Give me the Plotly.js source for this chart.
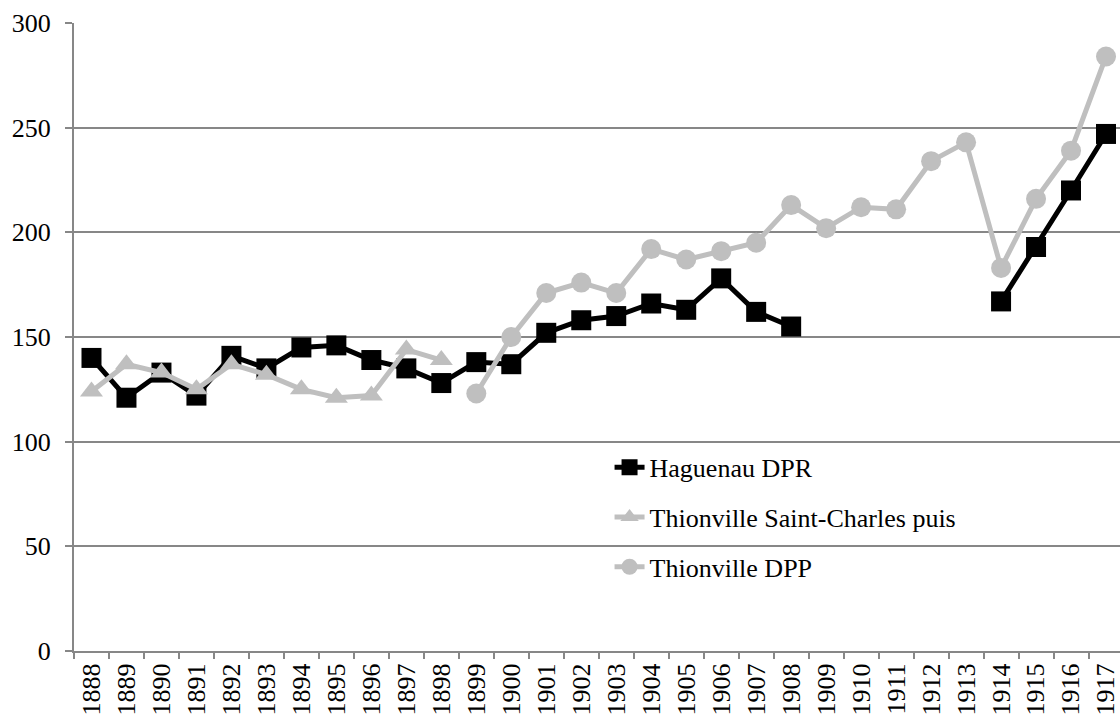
<!DOCTYPE html>
<html>
<head>
<meta charset="utf-8">
<script src="https://cdn.plot.ly/plotly-3.0.1.min.js"></script>
<style>html,body{margin:0;padding:0;background:#fff;}#chart{width:1120px;height:718px;}</style>
</head>
<body>
<div id="chart"></div>
<script>
const years = ["1888","1889","1890","1891","1892","1893","1894","1895","1896","1897","1898","1899","1900","1901","1902","1903","1904","1905","1906","1907","1908","1909","1910","1911","1912","1913","1914","1915","1916","1917"];
const haguenauDPR = [140,121,133,122,141,135,145,146,139,135,128,138,137,152,158,160,166,163,178,162,155,null,null,null,null,null,167,193,220,247];
const thionvilleStCharles = [124,137,133,125,137,132,125,121,122,144,139,null,null,null,null,null,null,null,null,null,null,null,null,null,null,null,null,null,null,null];
const thionvilleDPP = [null,null,null,null,null,null,null,null,null,null,null,123,150,171,176,171,192,187,191,195,213,202,212,211,234,243,183,216,239,284];
const seriesNames = ["Haguenau DPR","Thionville Saint-Charles puis","Thionville DPP"];
const yTicks = [0,50,100,150,200,250,300];

const FONT = "Liberation Serif";
const GREY = "#bfbfbf";
const AXIS = "#878787";

const traces = [
  {x: years, y: haguenauDPR, name: seriesNames[0], legendgroup: "a", type: "scatter", mode: "lines+markers",
   line: {color: "#000000", width: 5}, marker: {symbol: "square", size: 20, color: "#000000"}, connectgaps: false},
  {x: years, y: thionvilleStCharles, name: seriesNames[1], legendgroup: "b", type: "scatter", mode: "lines+markers",
   line: {color: GREY, width: 5}, marker: {symbol: "triangle-up", size: 20, color: GREY}, connectgaps: false},
  {x: years, y: thionvilleDPP, name: seriesNames[2], legendgroup: "c", type: "scatter", mode: "lines+markers",
   line: {color: GREY, width: 5}, marker: {symbol: "circle", size: 20, color: GREY}, connectgaps: false}
];

const layout = {
  width: 1120, height: 718,
  margin: {l: 74, r: 0, t: 23, b: 67, pad: 0},
  paper_bgcolor: "#ffffff", plot_bgcolor: "#ffffff",
  font: {family: FONT, size: 26, color: "#000000"},
  showlegend: true,
  legend: {x: 0.512, y: 0.33, xanchor: "left", yanchor: "top", bgcolor: "rgba(0,0,0,0)",
           font: {family: FONT, size: 26, color: "#000000"}, tracegroupgap: 13, traceorder: "grouped"},
  xaxis: {type: "category", categoryorder: "array", categoryarray: years, range: [-0.5, 29.4],
          showgrid: false, showline: true, linecolor: AXIS, linewidth: 2,
          ticks: "outside", ticklen: 6, tickcolor: AXIS, tickwidth: 2, tickson: "boundaries",
          tickangle: -90, tickfont: {family: FONT, size: 26, color: "#000000"}, automargin: false, zeroline: false},
  yaxis: {range: [0, 300], tickvals: yTicks, ticktext: yTicks.map(String),
          showgrid: true, gridcolor: AXIS, gridwidth: 2, showline: true, linecolor: AXIS, linewidth: 2,
          ticks: "outside", ticklen: 7, tickcolor: AXIS, tickwidth: 2, zeroline: false,
          tickfont: {family: FONT, size: 26, color: "#000000"}, automargin: false, ticklabelstandoff: 9}
};

Plotly.newPlot("chart", traces, layout, {displayModeBar: false, staticPlot: true});
</script>
</body>
</html>
